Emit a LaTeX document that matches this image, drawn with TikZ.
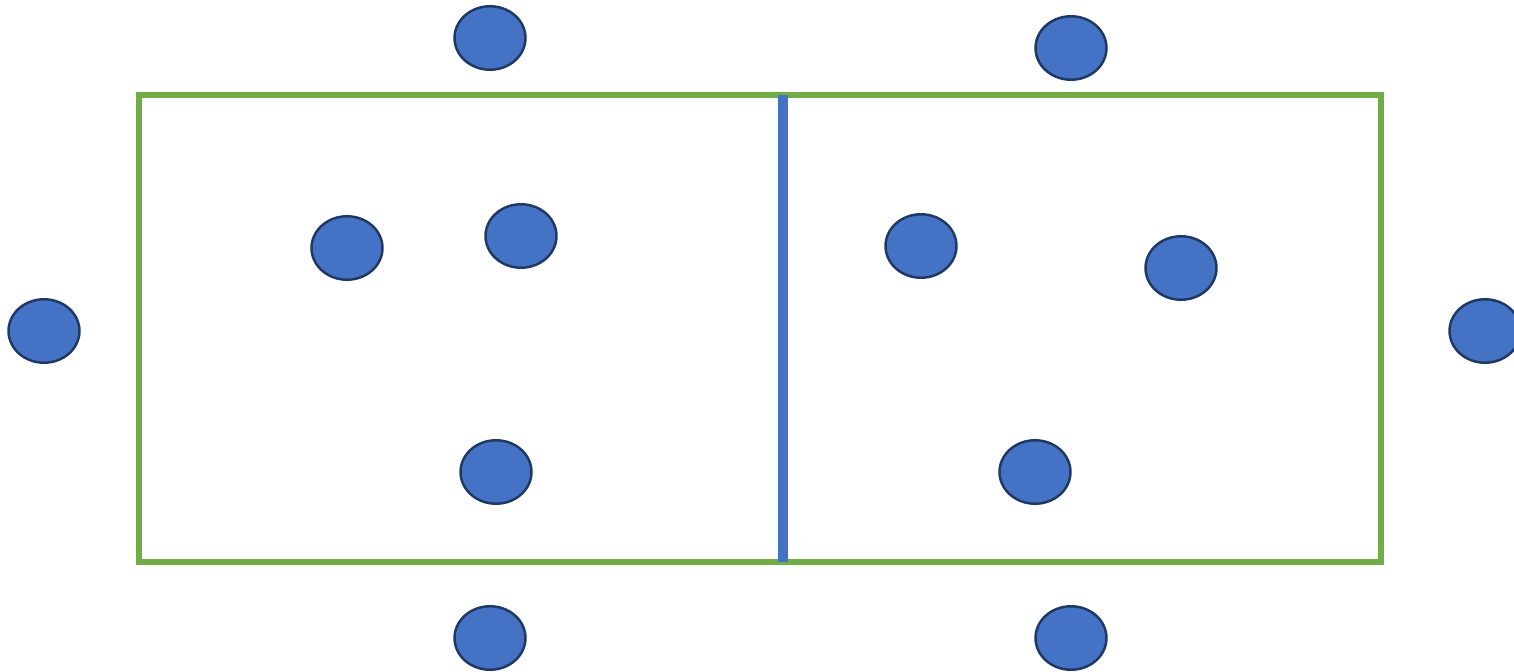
\documentclass[tikz,border=0pt]{standalone}
\usepackage{tikz}
\usetikzlibrary{shapes.geometric}
\definecolor{dotBlue}{HTML}{4472C4}
\definecolor{dotEdge}{HTML}{1F3864}
\definecolor{boxGreen}{HTML}{70AD47}
\definecolor{cutBlue}{HTML}{4472C4}
\tikzset{
  pt/.style={ellipse, draw=dotEdge, line width=1.4pt, fill=dotBlue,
    minimum width=1.42cm, minimum height=1.27cm, inner sep=0pt},
  frame/.style={draw=boxGreen, line width=3.4pt},
  cut/.style={draw=cutBlue, line width=6.2pt},
}
\begin{document}
\begin{tikzpicture}[x=0.02cm, y=-0.02cm]
\useasboundingbox (0,0) rectangle (1514,672);

% ── frame split in two halves ───────────────────────────────────────────────
\coordinate (nw) at (139,95);
\coordinate (se) at (1381,562);
\coordinate (ctop) at (783,95);
\coordinate (cbot) at (783,562);
\draw[frame] (nw) rectangle (se);
\draw[cut] (ctop) -- (cbot);

% ── points outside the frame ────────────────────────────────────────────────
\node[pt] (oTL) at (490,38) {};
\node[pt] (oTR) at (1071,48) {};
\node[pt] (oL) at (44,331) {};
\node[pt] (oR) at (1485,331) {};
\node[pt] (oBL) at (490,638) {};
\node[pt] (oBR) at (1071,638) {};

% ── points inside, left half ────────────────────────────────────────────────
\node[pt] (l1) at (347,248) {};
\node[pt] (l2) at (521,236) {};
\node[pt] (l3) at (496,472) {};

% ── points inside, right half ───────────────────────────────────────────────
\node[pt] (r1) at (921,246) {};
\node[pt] (r2) at (1181,268) {};
\node[pt] (r3) at (1035,472) {};

\end{tikzpicture}
\end{document}
